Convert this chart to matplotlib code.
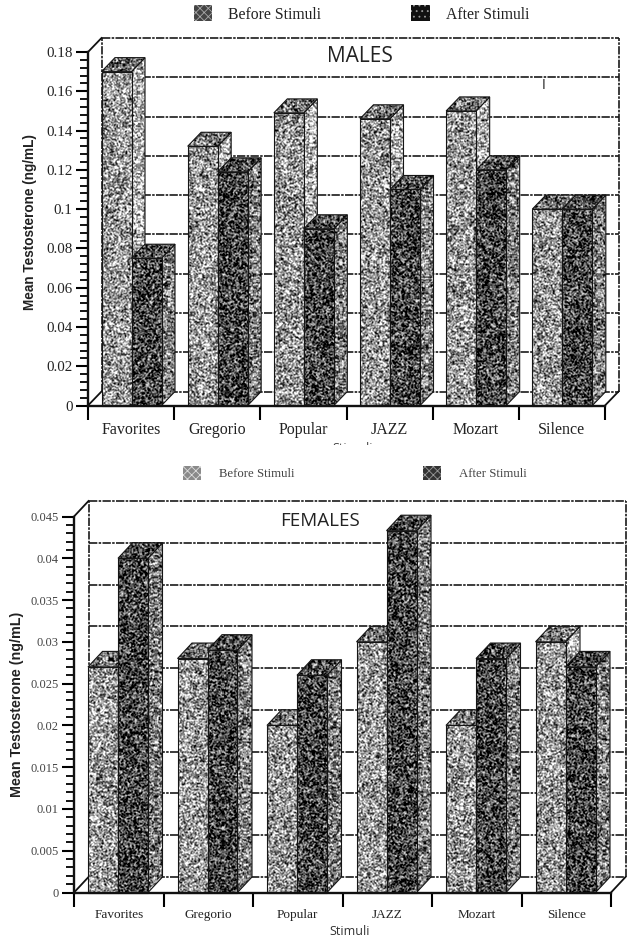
import numpy as np
import matplotlib
matplotlib.use("Agg")
import matplotlib.pyplot as plt
from matplotlib.patches import Patch, Polygon
from matplotlib.transforms import Bbox

W, H = 641, 946

stimuli = ["Favorites", "Gregorio", "Popular", "JAZZ", "Mozart", "Silence"]

male_before = [0.170, 0.132, 0.149, 0.146, 0.150, 0.100]
male_after = [0.075, 0.119, 0.090, 0.110, 0.120, 0.100]
male_ticks = [0, 0.02, 0.04, 0.06, 0.08, 0.1, 0.12, 0.14, 0.16, 0.18]
male_ticklabels = ["0", "0.02", "0.04", "0.06", "0.08", "0.1", "0.12", "0.14", "0.16", "0.18"]

female_before = [0.027, 0.028, 0.020, 0.030, 0.020, 0.030]
female_after = [0.040, 0.029, 0.026, 0.0433, 0.028, 0.027]
female_ticks = [0, 0.005, 0.01, 0.015, 0.02, 0.025, 0.03, 0.035, 0.04, 0.045]
female_ticklabels = ["0", "0.005", "0.01", "0.015", "0.02", "0.025", "0.03", "0.035", "0.04", "0.045"]

plt.rcParams["hatch.linewidth"] = 0.6
plt.rcParams["font.family"] = ["Liberation Serif", "DejaVu Serif"]

# grey level of each face, only used for the print grain on the bars
LIGHT = dict(front=0.60, side=0.70, top=0.45)
DARK = dict(front=0.27, side=0.50, top=0.30)

rng = np.random.default_rng(7)
z_next = 1.0


def grain(h, w, level):
    n = rng.random((h + 2, w + 2))
    n = (n + np.roll(n, 1, axis=0) + np.roll(n, 1, axis=1) + np.roll(n, (1, 1), axis=(0, 1))) / 4
    return np.clip(level + (n[1:-1, 1:-1] - 0.5) * 1.5, 0, 1)


def textured_face(ax, pts, level):
    global z_next
    pts = np.array(pts)
    poly = Polygon(pts, facecolor="none", edgecolor="#151515", lw=0.8, clip_on=False, zorder=z_next + 0.001)
    ax.add_patch(poly)
    x0, x1 = pts[:, 0].min(), pts[:, 0].max()
    y0, y1 = pts[:, 1].min(), pts[:, 1].max()
    disp = ax.transData.transform([(x0, y0), (x1, y1)])
    w = max(int(disp[1, 0] - disp[0, 0]), 2)
    h = max(int(disp[1, 1] - disp[0, 1]), 2)
    im = ax.imshow(grain(h, w, level), cmap="gray", vmin=0, vmax=1, extent=(x0, x1, y0, y1), aspect="auto",
                   interpolation="nearest", zorder=z_next)
    im.set_clip_path(poly)
    im.set_clip_box(fig.bbox)
    z_next += 0.005


def draw_bar(ax, x0, width, value, ddx, ddy, style):
    textured_face(ax, [(x0 + width, 0), (x0 + width + ddx, ddy), (x0 + width + ddx, value + ddy),
                       (x0 + width, value)], style["side"])
    textured_face(ax, [(x0, value), (x0 + ddx, value + ddy), (x0 + width + ddx, value + ddy),
                       (x0 + width, value)], style["top"])
    textured_face(ax, [(x0, 0), (x0 + width, 0), (x0 + width, value), (x0, value)], style["front"])


def draw_panel(box, ymax, ticks, ticklabels, before, after, depth, offset, bar_w, minor_step, tick_font, x_font, tick_color):
    global z_next
    z_next = 1.0
    left, right, top, bottom = box
    ax = fig.add_axes([left / W, 1 - bottom / H, (right - left) / W, (bottom - top) / H])
    ax.set_xlim(0, 6)
    ax.set_ylim(0, ymax)
    ax.patch.set_alpha(0)

    ddx = depth[0] / ((right - left) / 6)
    ddy = depth[1] / (bottom - top) * ymax
    bw = bar_w / ((right - left) / 6)
    off = offset / ((right - left) / 6)

    grid = dict(color="#1a1a1a", lw=1.2, ls=(0, (5, 0.8, 1.5, 0.8)), clip_on=False, zorder=0.5)
    for t in ticks[1:]:
        ax.plot([ddx, 6 + ddx], [t + ddy, t + ddy], **grid)
    ax.plot([ddx, 6 + ddx], [ddy, ddy], **grid)
    ax.plot([ddx, ddx], [ddy, ymax + ddy], **grid)
    ax.plot([6 + ddx, 6 + ddx], [ddy, ymax + ddy], **grid)
    corner = dict(color="#111111", lw=1.3, clip_on=False, zorder=0.6)
    ax.plot([0, ddx], [ymax, ymax + ddy], **corner)
    ax.plot([0, ddx], [0, ddy], **corner)
    ax.plot([6, 6 + ddx], [0, ddy], **corner)

    for i in range(6):
        draw_bar(ax, i + off, bw, before[i], ddx, ddy, LIGHT)
        draw_bar(ax, i + off + bw, bw, after[i], ddx, ddy, DARK)

    for s in ["top", "right"]:
        ax.spines[s].set_visible(False)
    for s in ["left", "bottom"]:
        ax.spines[s].set_linewidth(1.7)
        ax.spines[s].set_color("#111111")
        ax.spines[s].set_zorder(3)

    ax.set_yticks(ticks)
    ax.set_yticklabels(ticklabels, fontsize=tick_font, color=tick_color)
    ax.set_yticks(np.arange(0, ymax + minor_step / 2, minor_step), minor=True)
    ax.set_xticks(range(7))
    ax.set_xticklabels([])
    ax.set_xticks(np.arange(6) + 0.5, minor=True)
    ax.set_xticklabels(stimuli, minor=True, fontsize=x_font, color="#222222")
    ax.tick_params(axis="y", which="major", length=9, width=1.5, pad=2)
    ax.tick_params(axis="y", which="minor", length=6, width=1.3)
    ax.tick_params(axis="x", which="major", length=10, width=1.5)
    ax.tick_params(axis="x", which="minor", length=0, pad=12)
    return ax


fig = plt.figure(figsize=(W / 100, H / 100), dpi=100)

ax_m = draw_panel((88, 605, 52, 405.5), 0.18, male_ticks, male_ticklabels, male_before, male_after,
                  (13.5, 14), 13.5, 30, 0.004, 10.8, 11.5, "#222222")
ax_f = draw_panel((74, 611, 516.5, 892.5), 0.045, female_ticks, female_ticklabels, female_before, female_after,
                  (14.5, 15.5), 14, 30, 0.001, 9, 9.5, "#444444")

for lab_x, lab_y, fs in [(30, 222, 9.8), (17, 704, 10.3)]:
    fig.text(lab_x / W, 1 - lab_y / H, "Mean Testosterone (ng/mL)", rotation=90, ha="center", va="center",
             family=["Liberation Sans"], weight="bold", fontsize=fs, color="#222222")

fig.text(360 / W, 1 - 56 / H, "MALES", ha="center", va="center", family=["Open Sans"], fontsize=15, color="#222222")
fig.text(320 / W, 1 - 521 / H, "FEMALES", ha="center", va="center", family=["Open Sans"], fontsize=13.5, color="#222222")
fig.text(350 / W, 1 - 931 / H, "Stimuli", ha="center", va="center", family=["Open Sans"], fontsize=9, color="#333333")

# the scan cuts off the x label of the upper chart, only its top shows
cut = fig.text(353 / W, 1 - 448.5 / H, "Stimuli", ha="center", va="center", family=["Open Sans"], fontsize=9, color="#444444")
cut.set_clip_box(Bbox([[300, H - 445], [400, H - 436]]))
cut.set_clip_on(True)

# stray scan mark in the upper chart
fig.text(544 / W, 1 - 85 / H, "I", ha="center", va="center", family=["Liberation Sans"], fontsize=10, color="#333333")

male_handles = [Patch(facecolor="#444444", edgecolor="#aaaaaa", hatch="xxxx", lw=0, label="Before Stimuli"),
                Patch(facecolor="#111111", edgecolor="#999999", hatch="...", lw=0, label="After Stimuli")]
female_handles = [Patch(facecolor="#8a8a8a", edgecolor="#dddddd", hatch="xxxx", lw=0, label="Before Stimuli"),
                  Patch(facecolor="#333333", edgecolor="#999999", hatch="xxxx", lw=0, label="After Stimuli")]

fig.legend(handles=male_handles, loc="center", bbox_to_anchor=(361.5 / W, 1 - 14 / H), ncol=2, frameon=False,
           fontsize=11.3, handlelength=1.18, handleheight=1.18, handletextpad=1.0, columnspacing=5.75, labelcolor="#222222")
fig.legend(handles=female_handles, loc="center", bbox_to_anchor=(355 / W, 1 - 473 / H), ncol=2, frameon=False,
           fontsize=9.2, handlelength=1.4, handleheight=1.4, handletextpad=1.4, columnspacing=10.1, labelcolor="#444444")

fig.savefig("out.png", dpi=100, facecolor="white")
